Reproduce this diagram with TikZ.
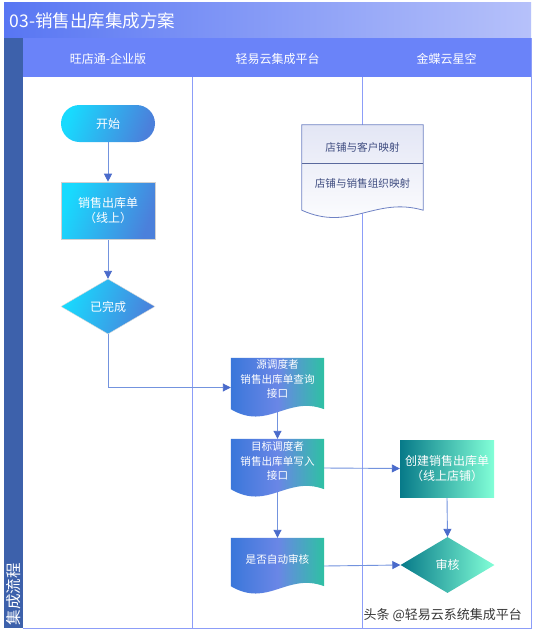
\documentclass[tikz,border=0pt]{standalone}
\usepackage{fontspec}
\setmainfont{Noto Sans CJK SC}
\usetikzlibrary{arrows.meta,shapes.geometric,calc}
\pgfdeclarelayer{bg}\pgfdeclarelayer{conn}\pgfdeclarelayer{shp}
\pgfsetlayers{bg,conn,shp,main}
\definecolor{titleL}{HTML}{5876F3}
\definecolor{titleR}{HTML}{B6C1FA}
\definecolor{headC}{HTML}{6A83F9}
\definecolor{stripC}{HTML}{3D61AB}
\definecolor{laneC}{HTML}{8C9DF8}
\definecolor{cyanC}{HTML}{18DAFE}
\definecolor{blueC}{HTML}{4B80DB}
\definecolor{docA}{HTML}{3A77DA}
\definecolor{docB}{HTML}{6A86E6}
\definecolor{docC}{HTML}{2EC1A3}
\definecolor{tealA}{HTML}{077A89}
\definecolor{tealB}{HTML}{82FFD7}
\definecolor{lineC}{HTML}{7393DE}
\definecolor{arrC}{HTML}{4A6BCB}
\definecolor{mapTop}{HTML}{E3E6F5}
\definecolor{mapLine}{HTML}{6F82C4}
\definecolor{mapText}{HTML}{3E4C80}
\pgfdeclarehorizontalshading{docshade}{100bp}{color(0bp)=(docA); color(25bp)=(docA); color(50bp)=(docB); color(75bp)=(docC); color(100bp)=(docC)}
\newcommand\drawdoc[2]{\shade[#2] (#1.north west) -- (#1.north east) -- ($(#1.south east)+(0,-8)$) .. controls ($(#1.south west)!0.6!(#1.south east)+(0,-22)$) and ($(#1.south west)!0.4!(#1.south east)+(0,14)$) .. ($(#1.south west)+(0,-8)$) -- cycle;}
\begin{document}
\begin{tikzpicture}[x=1pt,y=-1pt,
  txt/.style={font=\fontsize{12}{15}\selectfont, text=white, align=center},
  small/.style={font=\fontsize{10.6}{14.5}\selectfont, align=center},
  leftnode/.style={txt, left color=cyanC, right color=blueC, shading angle=70, minimum width=94pt, inner sep=0pt},
  rightnode/.style={txt, left color=tealA, right color=tealB, minimum width=94pt, inner sep=0pt},
  docbox/.style={minimum width=93pt, inner sep=0pt},
  conn/.style={draw=lineC, line width=0.9pt, -{Triangle[length=8pt,width=8pt,color=arrC]}}
]
\useasboundingbox (0,0) rectangle (533,633);
\begin{pgfonlayer}{bg}
\fill[white] (0,0) rectangle (533,633);
\shade[left color=titleL, right color=titleR] (4,2) rectangle (531,38);
\fill[headC] (23,38) rectangle (531,77);
\fill[stripC] (4,38) rectangle (23,628);
\draw[laneC, line width=1pt] (192.5,77) -- (192.5,628);
\draw[laneC, line width=1pt] (362.5,77) -- (362.5,628);
\draw[laneC, line width=1pt] (23,628) -- (531,628) -- (531,38);
\end{pgfonlayer}

% titles
\node[anchor=west, text=white, font=\fontsize{17.5}{20}\selectfont, inner sep=0pt] (title) at (9.5,21) {03-销售出库集成方案};
\node[txt] (h1) at (108,58.5) {旺店通-企业版};
\node[txt] (h2) at (277.5,58.5) {轻易云集成平台};
\node[txt] (h3) at (446.5,58.5) {金蝶云星空};
\node[text=white, font=\fontsize{15.5}{18}\selectfont, rotate=90, inner sep=0pt] (side) at (14,594) {集成流程};

% left lane
\node[leftnode, minimum height=37pt, rounded corners=18.5pt] (start) at (108,123.5) {开始};
\node[leftnode, minimum height=57pt, draw=black!18, line width=0.6pt] (order) at (108,210.5) {销售出库单\\（线上）};
\node[leftnode, diamond, aspect=1.7, minimum height=55pt, draw=white!85!black, line width=0.4pt] (done) at (108,306.5) {已完成};

% mapping doc
\node[docbox, minimum width=121pt, minimum height=93pt] (map) at (362.5,171.5) {};
\node[small, text=mapText] (map1) at (362.5,147) {店铺与客户映射};
\node[small, text=mapText] (map2) at (362.5,183.5) {店铺与销售组织映射};
\coordinate (mapL) at (302,163.5);
\coordinate (mapR) at (423,163.5);

% middle docs
\node[docbox, minimum height=59pt] (src) at (277.5,387.5) {};
\node[small, text=white] (srct) at (277.5,379) {源调度者\\销售出库单查询\\接口};
\node[docbox, minimum height=58pt] (tgt) at (277.5,468) {};
\node[small, text=white] (tgtt) at (277.5,461) {目标调度者\\销售出库单写入\\接口};
\node[docbox, minimum height=56pt] (auto) at (277.5,566) {};
\node[small, text=white] (autot) at (277.5,559) {是否自动审核};

% right lane
\node[rightnode, minimum height=57pt] (create) at (447,468.5) {创建销售出库单\\（线上店铺）};
\node[rightnode, diamond, aspect=1.7, minimum height=56pt] (audit) at (447.5,565) {审核};

% watermark
\node[text=black!78, font=\fontsize{13}{15}\selectfont, anchor=east, inner sep=0pt] (wm) at (522,615) {头条 @轻易云系统集成平台};

\begin{pgfonlayer}{shp}
\drawdoc{map}{top color=mapTop, bottom color=white, draw=mapLine, line width=0.8pt}
\draw[draw=mapLine!80!black, line width=0.8pt] (mapL) -- (mapR);
\drawdoc{src}{shading=docshade}
\drawdoc{tgt}{shading=docshade}
\drawdoc{auto}{shading=docshade}
\end{pgfonlayer}

\begin{pgfonlayer}{conn}
\draw[conn] (start) -- (order);
\draw[conn] (order) -- (done);
\draw[conn] (done.south) |- (src.west);
\draw[conn, shorten <=-8pt] (src.south) -- (tgt.north);
\draw[conn] (tgt.east) -- (create.west);
\draw[conn, shorten <=-8pt] (tgt.south) -- (auto.north);
\draw[conn] (auto.east) -- (audit.west);
\draw[conn] (create.south) -- (audit.north);
\end{pgfonlayer}
\end{tikzpicture}
\end{document}
